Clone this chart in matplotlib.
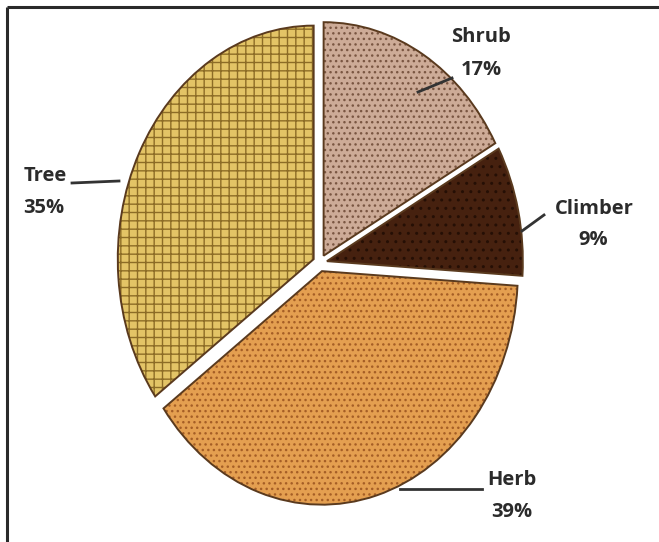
import matplotlib
matplotlib.use("Agg")
import matplotlib.pyplot as plt

# data
categories = ["Shrub", "Climber", "Herb", "Tree"]
values = [17, 9, 39, 35]
pct_labels = [f"{v}%" for v in values]

face_colors = ["#cdab97", "#46210f", "#e49f50", "#e3c466"]
speck_colors = ["#7a5642", "#250f05", "#a55e26", "#8c6c26"]
hatches = ["...", "..", "...", "++"]

W, H = 659, 542
fig = plt.figure(figsize=(W / 100, H / 100), dpi=100)
fig.patch.set_facecolor("white")

# pie axes (slightly taller than wide, like the reference)
cx, cy, rx, ry = 320, 263, 203, 242
ax = fig.add_axes([(cx - rx) / W, (H - cy - ry) / H, 2 * rx / W, 2 * ry / H])
ax.axis("off")

explode = [0.035] * len(values)
wedges, _ = ax.pie(values, startangle=90, counterclock=False, explode=explode,
                   radius=0.965, colors=face_colors,
                   wedgeprops=dict(linewidth=0))
for w, sc, h in zip(wedges, speck_colors, hatches):
    w.set_hatch(h)
    w.set_edgecolor(sc)
    w.set_linewidth(0)

outline, _ = ax.pie(values, startangle=90, counterclock=False, explode=explode,
                    radius=0.965, colors=["none"] * len(values),
                    wedgeprops=dict(linewidth=1.4, edgecolor="#5a3a1e"))
ax.set_aspect("auto")
ax.set_xlim(-1, 1)
ax.set_ylim(-1, 1)

# overlay axes in pixel coordinates for frame, labels and leader lines
ov = fig.add_axes([0, 0, 1, 1])
ov.set_xlim(0, W)
ov.set_ylim(H, 0)
ov.axis("off")
ov.patch.set_alpha(0)

ov.plot([7, 7], [7, H], color="#2a2a2a", lw=2.2, solid_capstyle="butt")
ov.plot([7, W], [7, 7], color="#2a2a2a", lw=2.2, solid_capstyle="butt")

name_pos = [(481, 37), (594, 209), (512, 480), (45, 176)]
pct_pos = [(481, 70), (593, 240), (512, 512), (44, 208)]
leaders = [((418, 92), (452, 78)), ((522, 231), (544, 215)),
           ((400, 489), (482, 489)), ((72, 183), (119, 181))]
for name, pct, (nx, ny), (px, py), (p0, p1) in zip(
        categories, pct_labels, name_pos, pct_pos, leaders):
    for s, x, y in ((name, nx, ny), (pct, px, py)):
        ov.text(x, y, s, ha="center", va="center", fontsize=14.5,
                fontweight="bold", color="#2b2b2b", family="Open Sans")
    ov.plot([p0[0], p1[0]], [p0[1], p1[1]], color="#333333", lw=2)

fig.savefig("out.png", dpi=100, facecolor="white")
